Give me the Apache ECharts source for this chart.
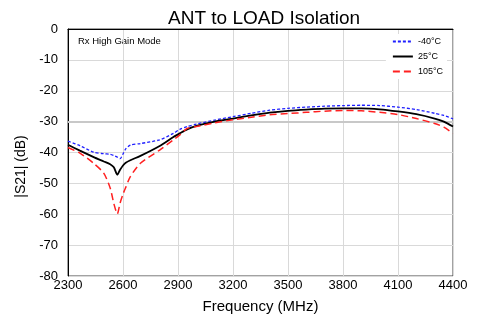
<!DOCTYPE html>
<html>
<head>
<meta charset="utf-8">
<script src="https://cdn.jsdelivr.net/npm/echarts@6/dist/echarts.min.js"></script>
<style>
  html, body { margin: 0; padding: 0; background: #fff; }
  #chart { width: 485px; height: 319px; }
</style>
</head>
<body>
<div id="chart"></div>
<script>
// frequency points (MHz)
var freqs = [2300, 2365, 2440, 2495, 2530, 2550, 2569, 2584, 2600, 2615, 2640, 2695, 2800, 2875, 2910, 2950, 3000,
  3100, 3200, 3300, 3400, 3500, 3600, 3700, 3800, 3900, 4000, 4100, 4200, 4300, 4350, 4400];
var coldValues = [-36.3, -37.8, -39.9, -40.4, -40.6, -41.0, -41.5, -42.0, -40.5, -38.8, -37.6, -37.1, -35.9, -33.8, -32.5, -31.6, -30.8,
  -29.5, -28.4, -27.3, -26.3, -25.7, -25.3, -25.0, -24.8, -24.7, -24.8, -25.3, -26.1, -27.3, -28.0, -29.1];
var roomValues = [-37.5, -39.4, -41.5, -42.9, -43.8, -44.8, -47.2, -45.6, -44.2, -43.3, -42.5, -41.1, -37.9, -35.0, -33.8, -32.5, -31.4,
  -30.0, -29.0, -28.0, -27.1, -26.5, -26.1, -25.8, -25.7, -25.7, -26.0, -26.7, -27.6, -29.0, -30.0, -31.6];
var hotValues = [-38.4, -40.2, -43.5, -46.7, -51.5, -56.5, -59.9, -56.4, -53.5, -51.3, -47.8, -43.5, -39.2, -35.9, -34.3, -32.2, -31.6,
  -30.4, -29.4, -28.6, -27.8, -27.4, -27.0, -26.6, -26.4, -26.5, -27.0, -27.7, -29.0, -30.6, -31.8, -33.8];
var seriesNames = ['-40°C', '25°C', '105°C'];
var xTicks = [2300, 2600, 2900, 3200, 3500, 3800, 4100, 4400];

function pairs(vals){
  return freqs.map(function(f, i){ return [f, vals[i]]; });
}

var chart = echarts.init(document.getElementById('chart'));
var font = 'Liberation Sans, Arial, sans-serif';

var options = {
  animation: false,
  title: {
    text: 'ANT to LOAD Isolation',
    left: 163,
    top: 4,
    textStyle: { fontFamily: font, fontSize: 19, fontWeight: 'normal', color: '#000' }
  },
  grid: {
    left: 68, right: 32, top: 29, bottom: 43,
    show: true, borderColor: '#444', borderWidth: 1
  },
  legend: {
    data: seriesNames,
    orient: 'vertical',
    right: 38,
    top: 34,
    itemWidth: 20,
    itemHeight: 8,
    itemGap: 6,
    backgroundColor: '#fff',
    padding: [3, 4, 3, 6],
    itemStyle: { opacity: 0 },
    textStyle: { fontFamily: font, fontSize: 9, color: '#000' }
  },
  graphic: [{
    type: 'text',
    left: 78,
    top: 36,
    style: { text: 'Rx High Gain Mode', fontFamily: font, fontSize: 9.5, fill: '#000' }
  }],
  xAxis: {
    type: 'value',
    min: 2300,
    max: 4400,
    name: 'Frequency (MHz)',
    nameLocation: 'middle',
    nameGap: 23,
    nameTextStyle: { fontFamily: font, fontSize: 15, color: '#000' },
    axisLine: { lineStyle: { color: '#000', width: 1 } },
    axisTick: { show: false, customValues: xTicks },
    axisLabel: {
      customValues: xTicks, fontFamily: font, fontSize: 13, color: '#000', margin: 3,
      formatter: function(value){ return value + ''; }
    },
    splitLine: { show: true, lineStyle: { color: '#d9d9d9', width: 1 } }
  },
  yAxis: {
    type: 'value',
    min: -80,
    max: 0,
    interval: 10,
    name: '|S21| (dB)',
    nameLocation: 'middle',
    nameGap: 40,
    nameTextStyle: { fontFamily: font, fontSize: 14, color: '#000', padding: [0, 28, 0, 0] },
    axisLine: { show: true, lineStyle: { color: '#000', width: 1 } },
    axisTick: { show: false },
    axisLabel: { fontFamily: font, fontSize: 13, color: '#000', margin: 10 },
    splitLine: { show: true, lineStyle: { color: '#d9d9d9', width: 1 } }
  },
  series: [
    {
      name: seriesNames[0],
      type: 'line',
      smooth: 0.25,
      symbol: 'none',
      data: pairs(coldValues),
      lineStyle: { color: '#1f1fff', width: 1.3, type: [3, 2] },
      itemStyle: { color: '#1f1fff' },
      z: 3
    },
    {
      name: seriesNames[1],
      type: 'line',
      smooth: 0.25,
      symbol: 'none',
      data: pairs(roomValues),
      lineStyle: { color: '#000', width: 1.8 },
      itemStyle: { color: '#000' },
      markLine: {
        silent: true,
        symbol: 'none',
        label: { show: false },
        lineStyle: { color: '#c8c8c8', width: 2, type: 'solid' },
        data: [{ yAxis: -30 }],
        z: 1
      },
      z: 4
    },
    {
      name: seriesNames[2],
      type: 'line',
      smooth: 0.25,
      symbol: 'none',
      data: pairs(hotValues),
      lineStyle: { color: '#ff2020', width: 1.5, type: [7, 4] },
      itemStyle: { color: '#ff2020' },
      z: 5
    }
  ]
};
chart.setOption(options);
</script>
</body>
</html>
